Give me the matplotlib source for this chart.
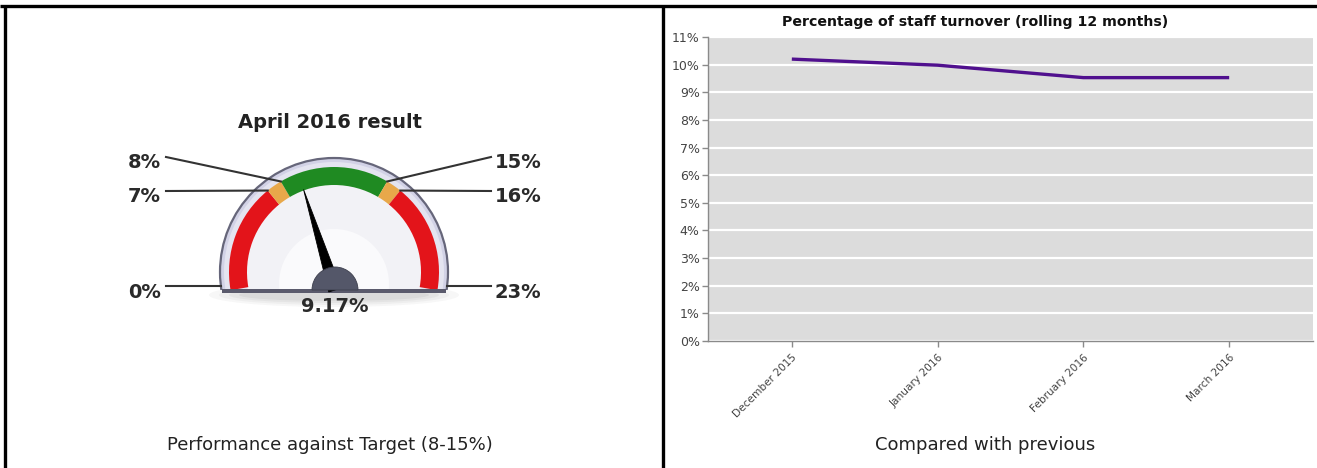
import numpy as np
import matplotlib
matplotlib.use("Agg")
import matplotlib.pyplot as plt
from matplotlib.patches import Wedge, Circle, Rectangle, Polygon, Ellipse
from matplotlib.ticker import FixedLocator

# ---------------- data ----------------
gauge_title = "April 2016 result"
gauge_value = 9.17
gauge_min, gauge_max = 0, 23
band_edges = [0, 7, 8, 15, 16, 23]
band_colors = ["#e3141a", "#e8a84a", "#1f8a22", "#e8a84a", "#e3141a"]
gauge_ticks = [0, 7, 8, 15, 16, 23]
gauge_caption = "Performance against Target (8-15%)"

months = ["December 2015", "January 2016", "February 2016", "March 2016"]
turnover = [10.2, 9.98, 9.53, 9.53]
line_title = "Percentage of staff turnover (rolling 12 months)"
y_ticks = list(range(0, 12))
line_caption = "Compared with previous"

# ---------------- figure ----------------
W, H = 1317, 468
fig = plt.figure(figsize=(W / 100, H / 100), dpi=100)
fig.patch.set_facecolor("white")

canvas = fig.add_axes([0, 0, 1, 1])
canvas.set_xlim(0, W)
canvas.set_ylim(0, H)
canvas.axis("off")

# table borders
bc = "black"
canvas.plot([0, W], [462, 462], color=bc, lw=2.4, solid_capstyle="butt")
canvas.plot([5, 5], [0, 463], color=bc, lw=2.4, solid_capstyle="butt")
canvas.plot([663, 663], [0, 463], color=bc, lw=2.4, solid_capstyle="butt")

# ---------------- gauge ----------------
cx, cy = 334, 196          # arc centre (pixels, y up)
base_y = 178
r_rim, r_out, r_in = 114, 105, 87
a_start, a_end = 190.0, -10.0


def ang(v):
    return a_start + (v - gauge_min) / (gauge_max - gauge_min) * (a_end - a_start)


clip = Polygon([(0, base_y), (660, base_y), (660, 468), (0, 468)], closed=True,
               transform=canvas.transData, facecolor="none", edgecolor="none")
canvas.add_patch(clip)


def add_clipped(p):
    canvas.add_patch(p)
    p.set_clip_path(clip)
    return p


# shadow
for i, a in enumerate([0.05, 0.06, 0.07, 0.08]):
    canvas.add_patch(Ellipse((cx, base_y - 5), 250 - i * 20, 24 - i * 4,
                             color="#6a6a6a", alpha=a, lw=0))

add_clipped(Circle((cx, cy), r_rim, facecolor="#d2d2e6", edgecolor="#66667a", lw=1.6, zorder=2))
add_clipped(Circle((cx, cy), r_rim - 4, facecolor="#e4e4f0", edgecolor="none", zorder=2))
add_clipped(Circle((cx, cy), r_in + 1, facecolor="#f2f2f6", edgecolor="none", zorder=2))
add_clipped(Circle((cx, cy - 12), 55, facecolor="#fafafc", edgecolor="none", zorder=2))

for lo, hi, col in zip(band_edges[:-1], band_edges[1:], band_colors):
    add_clipped(Wedge((cx, cy), r_out, ang(hi), ang(lo), width=r_out - r_in,
                      facecolor=col, edgecolor="none", zorder=3))

# base bar
canvas.add_patch(Rectangle((cx - 112, base_y - 3), 224, 4.5, facecolor="#5a5a6c",
                           edgecolor="none", zorder=4))

# needle
hub_x = cx + 1
t = np.deg2rad(ang(gauge_value))
tip = (cx + (r_in + 1) * np.cos(t), cy + (r_in + 1) * np.sin(t))
dx, dy = tip[0] - hub_x, tip[1] - base_y
L = np.hypot(dx, dy)
px, py = -dy / L * 6.5, dx / L * 6.5
canvas.add_patch(Polygon([(hub_x + px, base_y + py), tip, (hub_x - px, base_y - py)],
                         closed=True, facecolor="black", edgecolor="black", lw=0.6, zorder=5))
canvas.add_patch(Wedge((hub_x, base_y), 23, 0, 180, facecolor="#545769",
                       edgecolor="#3c3e4c", lw=0.6, zorder=6))

# tick labels and leader lines
label_y = {0: 176, 23: 176, 7: 271, 16: 271, 8: 305, 15: 305}
lab_kw = dict(fontsize=14, color="#2a2a2a", family="DejaVu Sans", va="center",
              fontweight="bold", zorder=7)
for v in gauge_ticks:
    yl = label_y[v]
    tt = np.deg2rad(ang(v))
    left = v < (gauge_min + gauge_max) / 2
    if v in (gauge_min, gauge_max):
        ly = yl + 6
        ex = cx + (-1 if left else 1) * np.sqrt(r_rim ** 2 - (ly - cy) ** 2)
        ey = ly
    else:
        ex, ey = cx + r_out * np.cos(tt), cy + r_out * np.sin(tt)
    if left:
        canvas.plot([166, ex], [yl + 6, ey], color="#333333", lw=1.5, zorder=7)
        canvas.text(161, yl, f"{v}%", ha="right", **lab_kw)
    else:
        canvas.plot([491, ex], [yl + 6, ey], color="#333333", lw=1.5, zorder=7)
        canvas.text(495, yl, f"{v}%", ha="left", **lab_kw)

canvas.text(335, 162, f"{gauge_value:.2f}%", ha="center", va="center",
            fontsize=14, color="#2a2a2a", fontweight="bold", family="DejaVu Sans", zorder=7)
canvas.text(330, 346, gauge_title, ha="center", va="center", fontsize=14,
            fontweight="bold", color="#222222", family="DejaVu Sans", zorder=7)

canvas.text(330, 23, gauge_caption, ha="center", va="center", fontsize=13,
            color="#222222", family="DejaVu Sans")
canvas.text(985, 23, line_caption, ha="center", va="center", fontsize=13,
            color="#222222", family="DejaVu Sans")

# ---------------- line chart ----------------
ax = fig.add_axes([708 / W, (H - 341) / H, (1313 - 708) / W, (341 - 37) / H])
ax.set_facecolor("#dcdcdc")
x = np.arange(len(months))
ax.plot(x, turnover, color="#50108e", lw=2.4, solid_capstyle="butt", zorder=3)
ax.set_xlim(-0.575, len(months) - 1 + 0.575)
ax.set_ylim(0, 11)
ax.yaxis.set_major_locator(FixedLocator(y_ticks))
ax.set_yticklabels([f"{v}%" for v in y_ticks])
ax.set_xticks(x)
ax.set_xticklabels(months, rotation=45, ha="right", rotation_mode="anchor")
ax.grid(axis="y", color="white", lw=1.6)
ax.set_axisbelow(True)
for s in ["top", "right"]:
    ax.spines[s].set_visible(False)
for s in ["left", "bottom"]:
    ax.spines[s].set_color("#8a8a8a")
    ax.spines[s].set_linewidth(1.0)
ax.tick_params(axis="y", colors="#8a8a8a", labelcolor="#444444", labelsize=9,
               length=4, width=1, pad=2)
ax.tick_params(axis="x", colors="#8a8a8a", labelcolor="#444444", labelsize=7.6,
               length=4, width=1, pad=4)
for lab in ax.get_yticklabels() + ax.get_xticklabels():
    lab.set_family("DejaVu Sans")

fig.text(975 / W, (H - 22) / H, line_title, ha="center", va="center",
         fontsize=10.2, fontweight="bold", color="#111111", family="DejaVu Sans")

fig.savefig("out.png", dpi=100, facecolor="white")
